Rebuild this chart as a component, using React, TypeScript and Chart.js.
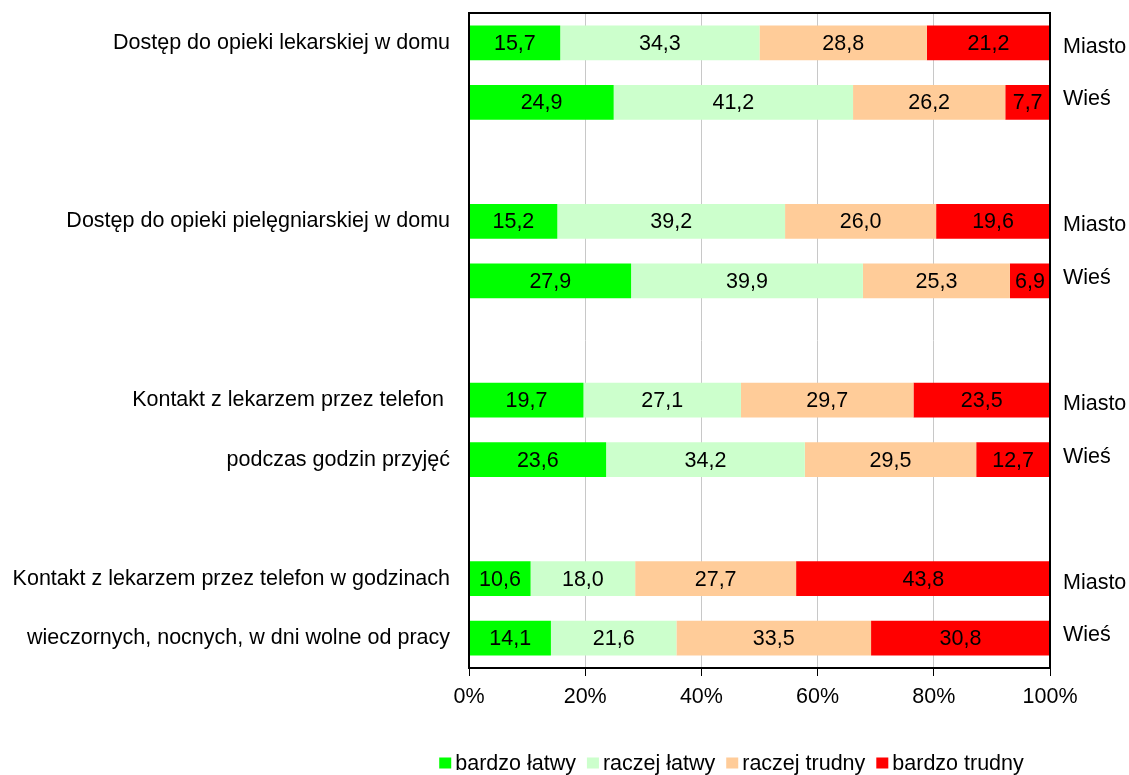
import React, { useEffect, useRef } from "react";
import { Chart, registerables } from "chart.js";

Chart.register(...registerables);

const categories: string[] = [
  "Dostęp do opieki lekarskiej w domu",
  "",
  "",
  "Dostęp do opieki pielęgniarskiej w domu",
  "",
  "",
  "Kontakt z lekarzem przez telefon ",
  "podczas godzin przyjęć",
  "",
  "Kontakt z lekarzem przez telefon w godzinach",
  "wieczornych, nocnych, w dni wolne od pracy",
];

const rightLabels: string[] = [
  "Miasto", "Wieś", "", "Miasto", "Wieś", "", "Miasto", "Wieś", "", "Miasto", "Wieś",
];

const seriesNames: string[] = ["bardzo łatwy", "raczej łatwy", "raczej trudny", "bardzo trudny"];

const bardzoLatwy: (number | null)[] = [15.7, 24.9, null, 15.2, 27.9, null, 19.7, 23.6, null, 10.6, 14.1];
const raczejLatwy: (number | null)[] = [34.3, 41.2, null, 39.2, 39.9, null, 27.1, 34.2, null, 18.0, 21.6];
const raczejTrudny: (number | null)[] = [28.8, 26.2, null, 26.0, 25.3, null, 29.7, 29.5, null, 27.7, 33.5];
const bardzoTrudny: (number | null)[] = [21.2, 7.7, null, 19.6, 6.9, null, 23.5, 12.7, null, 43.8, 30.8];

const xTicks: number[] = [0, 20, 40, 60, 80, 100];

const colors = ["#00FF00", "#CCFFCC", "#FFCC99", "#FF0000"];
const FONT = "'Liberation Sans', Arial, sans-serif";
const FS = 21.5;

const fmt = (v: number) => v.toFixed(1).replace(".", ",");

const labelsPlugin = {
  id: "customDraw",
  afterDatasetsDraw(chart: any) {
    const { ctx, chartArea } = chart;
    ctx.save();
    // value labels
    ctx.font = `${FS}px ${FONT}`;
    ctx.fillStyle = "#000";
    ctx.textAlign = "center";
    ctx.textBaseline = "middle";
    chart.data.datasets.forEach((ds: any, di: number) => {
      const meta = chart.getDatasetMeta(di);
      meta.data.forEach((el: any, i: number) => {
        const v = ds.data[i];
        if (v === null || v === undefined) return;
        const p = el.getCenterPoint();
        ctx.fillText(fmt(v), p.x, p.y + 1);
      });
    });
    // frame
    ctx.strokeStyle = "#000";
    ctx.lineWidth = 2;
    ctx.strokeRect(chartArea.left, chartArea.top, chartArea.right - chartArea.left, chartArea.bottom - chartArea.top);
    // right labels
    const yScale = chart.scales.y;
    ctx.textAlign = "left";
    rightLabels.forEach((t, i) => {
      if (!t) return;
      const off = t === "Miasto" ? 4 : -3;
      ctx.fillText(t, chartArea.right + 13, yScale.getPixelForValue(i) + off);
    });
    // legend
    const box = { w: 12, h: 11 };
    const gapText = 4;
    const gapItem = 11;
    ctx.font = `${FS}px ${FONT}`;
    const widths = seriesNames.map((n) => ctx.measureText(n).width);
    const total = widths.reduce((a, w) => a + box.w + gapText + w, 0) + gapItem * (seriesNames.length - 1);
    const cx = (chartArea.left + chartArea.right) / 2 - 28;
    let x = cx - total / 2;
    const y = chartArea.bottom + 95;
    seriesNames.forEach((n, i) => {
      ctx.fillStyle = colors[i];
      ctx.fillRect(x, y - box.h / 2, box.w, box.h);
      x += box.w + gapText;
      ctx.fillStyle = "#000";
      ctx.fillText(n, x, y + 1);
      x += widths[i] + gapItem;
    });
    ctx.restore();
  },
};

export default function App() {
  const ref = useRef<HTMLCanvasElement | null>(null);
  useEffect(() => {
    if (!ref.current) return;
    const series = [bardzoLatwy, raczejLatwy, raczejTrudny, bardzoTrudny];
    const chart = new Chart(ref.current, {
      type: "bar",
      data: {
        labels: categories,
        datasets: series.map((d, i) => ({
          label: seriesNames[i],
          data: d,
          backgroundColor: colors[i],
          borderWidth: 0,
          categoryPercentage: 1,
          barPercentage: 0.583,
        })),
      },
      options: {
        indexAxis: "y",
        animation: false,
        responsive: false,
        layout: { autoPadding: false, padding: { top: 13, right: 79, bottom: 66, left: 0 } },
        plugins: {
          legend: { display: false },
          tooltip: { enabled: false },
        },
        scales: {
          x: {
            type: "linear",
            stacked: true,
            min: 0,
            max: 100,
            afterBuildTicks: (scale: any) => {
              scale.ticks = xTicks.map((v) => ({ value: v }));
            },
            afterFit: (scale: any) => {
              scale.height = 41;
            },
            ticks: {
              callback: (v: any) => `${v}%`,
              color: "#000",
              font: { family: FONT, size: FS },
              padding: 8,
              maxRotation: 0,
            },
            grid: { color: "#c8c8c8", tickColor: "#000", tickLength: 8, lineWidth: 1 },
            border: { display: false },
          },
          y: {
            type: "category",
            stacked: true,
            afterFit: (scale: any) => {
              scale.width = 469;
              scale.paddingTop = 0;
              scale.paddingBottom = 0;
            },
            ticks: {
              color: "#000",
              font: { family: FONT, size: FS },
              padding: 19,
              autoSkip: false,
            },
            grid: { display: false, drawTicks: false },
            border: { display: false },
          },
        },
      },
      plugins: [labelsPlugin],
    } as any);
    return () => chart.destroy();
  }, []);
  return (
    <div style={{ position: "absolute", left: 0, top: 0, width: 1129, height: 775, background: "#fff" }}>
      <canvas ref={ref} width={1129} height={775} style={{ width: 1129, height: 775 }} />
    </div>
  );
}
